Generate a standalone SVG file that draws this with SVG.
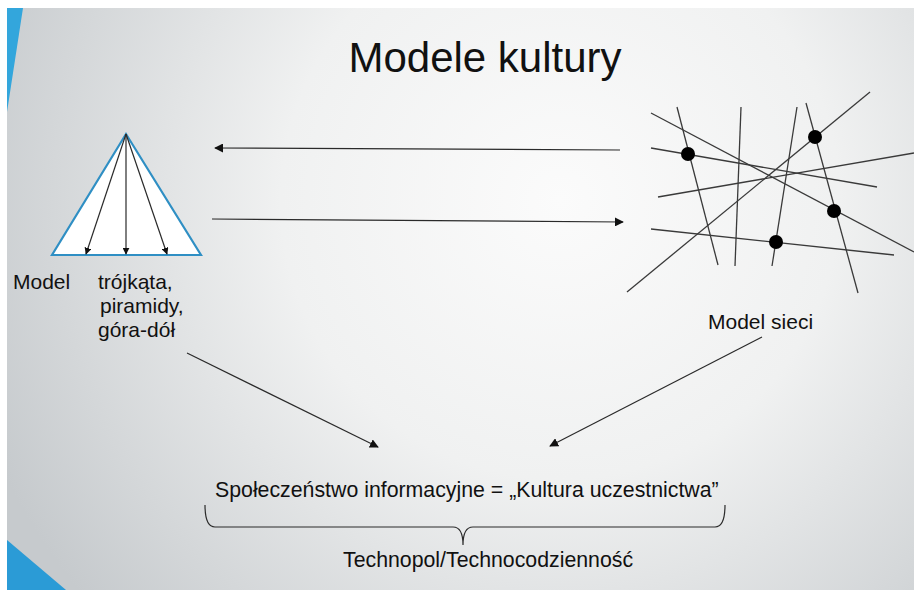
<svg xmlns="http://www.w3.org/2000/svg" width="914" height="590" viewBox="0 0 914 590">
  <defs>
    <radialGradient id="bg" cx="560" cy="200" r="620" gradientUnits="userSpaceOnUse">
      <stop offset="0" stop-color="#fbfbfb"/>
      <stop offset="0.45" stop-color="#f0f1f1"/>
      <stop offset="1" stop-color="#c6cacd"/>
    </radialGradient>
    <marker id="ah" viewBox="0 0 10 10" refX="9" refY="5" markerWidth="9" markerHeight="9" markerUnits="userSpaceOnUse" orient="auto">
      <path d="M0,0 L10,5 L0,10 z" fill="#111"/>
    </marker>
    <marker id="ahs" viewBox="0 0 10 10" refX="9" refY="5" markerWidth="7" markerHeight="7" markerUnits="userSpaceOnUse" orient="auto">
      <path d="M0,0 L10,5 L0,10 z" fill="#111"/>
    </marker>
  </defs>
  <style>
    .t { font-family: "Liberation Sans", Arial, sans-serif; fill: #111; }
    .conn { stroke: #2a2a2a; stroke-width: 1.2; fill: none; }
    .net { stroke: #3a3a3a; stroke-width: 1.3; fill: none; }
    .dot { fill: #000; }
  </style>

  <rect x="0" y="0" width="914" height="590" fill="#ffffff"/>
  <rect x="7" y="8" width="907" height="582" fill="url(#bg)"/>
  <polygon points="7,8 23,8 7,112" fill="#33a6dc"/>
  <polygon points="7,540 66,590 7,590" fill="#2b9bd6"/>

  <g id="title">
    <text class="t" x="485" y="72" font-size="42" text-anchor="middle">Modele kultury</text>
  </g>

  <g id="triangle-model">
    <polygon points="126,134 52,255 201,255" fill="#ffffff" stroke="#2f8fc4" stroke-width="2.2"/>
    <line class="conn" x1="126" y1="134" x2="86" y2="254" marker-end="url(#ahs)"/>
    <line class="conn" x1="126" y1="134" x2="126" y2="254" marker-end="url(#ahs)"/>
    <line class="conn" x1="126" y1="134" x2="167" y2="254" marker-end="url(#ahs)"/>
  </g>

  <g id="triangle-label">
    <text class="t" x="13" y="289" font-size="21">Model</text>
    <text class="t" x="98" y="289" font-size="21">trójkąta,</text>
    <text class="t" x="100" y="313" font-size="21">piramidy,</text>
    <text class="t" x="98" y="337" font-size="21">góra-dół</text>
  </g>

  <g id="network-model">
    <line class="net" x1="677" y1="107" x2="718" y2="265"/>
    <line class="net" x1="741" y1="107" x2="735" y2="266"/>
    <line class="net" x1="797" y1="107" x2="772" y2="266"/>
    <line class="net" x1="806" y1="103" x2="858" y2="293"/>
    <line class="net" x1="651" y1="113" x2="914" y2="252"/>
    <line class="net" x1="651" y1="148" x2="877" y2="187"/>
    <line class="net" x1="658" y1="197" x2="914" y2="153"/>
    <line class="net" x1="651" y1="229" x2="894" y2="255"/>
    <line class="net" x1="627" y1="292" x2="870" y2="92"/>
    <circle class="dot" cx="688" cy="154" r="7"/>
    <circle class="dot" cx="815" cy="137" r="7"/>
    <circle class="dot" cx="834" cy="211" r="7"/>
    <circle class="dot" cx="776" cy="242" r="7"/>
  </g>

  <g id="network-label">
    <text class="t" x="708" y="329" font-size="21">Model sieci</text>
  </g>

  <g id="society">
    <text class="t" x="215" y="497" font-size="21.3">Społeczeństwo informacyjne = „Kultura uczestnictwa”</text>
  </g>

  <g id="technopol">
    <text class="t" x="343" y="567" font-size="21.3">Technopol/Technocodzienność</text>
  </g>

  <g id="connectors">
    <line class="conn" x1="620" y1="150" x2="215" y2="148" marker-end="url(#ah)"/>
    <line class="conn" x1="212" y1="219" x2="623" y2="222" marker-end="url(#ah)"/>
    <line class="conn" x1="187" y1="353" x2="378" y2="447" marker-end="url(#ah)"/>
    <line class="conn" x1="762" y1="337" x2="550" y2="446" marker-end="url(#ah)"/>
    <path class="conn" d="M205,505 Q205,527 215,527 L453,527 Q463,527 463,545 Q463,527 473,527 L715,527 Q725,527 725,505"/>
  </g>
</svg>
